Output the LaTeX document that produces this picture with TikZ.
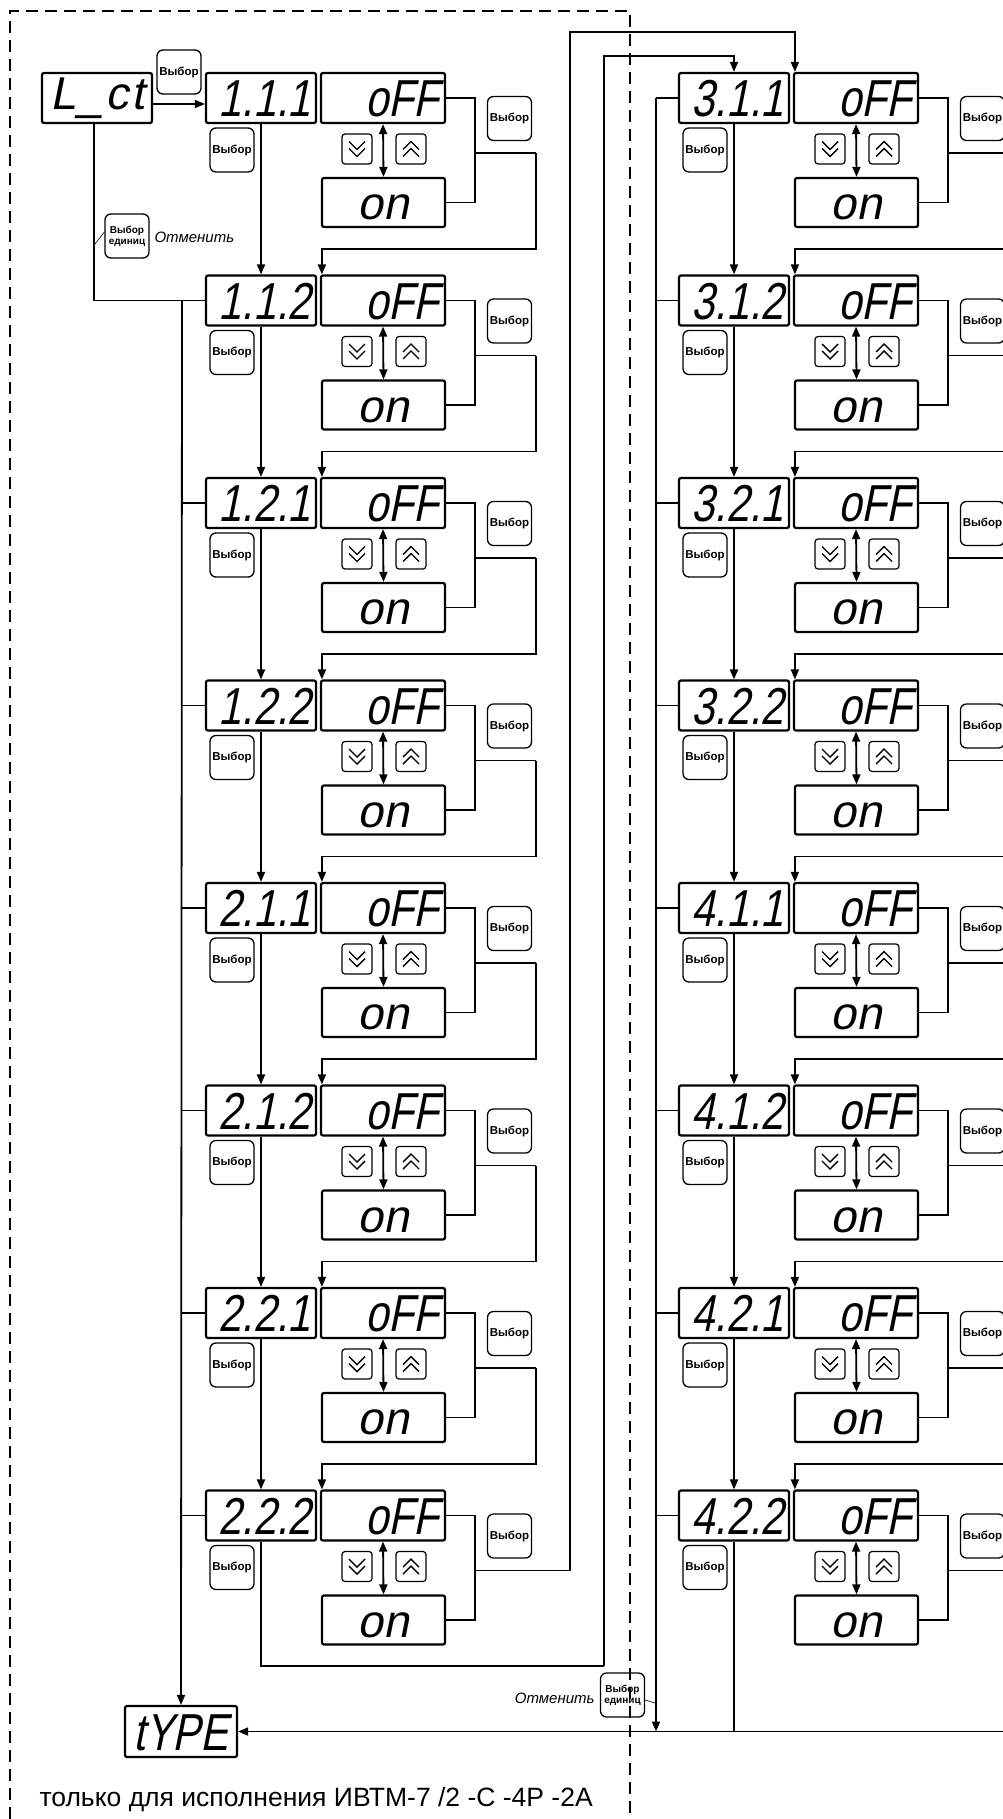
\documentclass[tikz,border=0pt]{standalone}
\usepackage{fontspec}
\usepackage{graphicx}
\setmainfont{Liberation Sans}
\newfontfamily\segfont[FakeSlant=0.2,FakeStretch=0.8]{Liberation Sans}
\newfontfamily\segwide[FakeSlant=0.2]{Liberation Sans}
\newfontfamily\segspaced[FakeSlant=0.2,LetterSpace=5]{Liberation Sans}
\usetikzlibrary{arrows.meta}
\begin{document}
\begin{tikzpicture}[x=1pt,y=-1pt,
  box/.style={draw,line width=2.2pt,rounded corners=2pt,inner sep=0pt,minimum height=50pt},
  seg/.style={font=\segfont\fontsize{52}{52}\selectfont,text height=37pt,text depth=0pt},
  seglow/.style={font=\segwide\fontsize{46}{46}\selectfont,text height=34pt,text depth=0pt},
  btn/.style={draw,line width=1.3pt,rounded corners=6pt,minimum width=44pt,minimum height=44pt,inner sep=0pt,font=\fontsize{11.5}{12}\selectfont\bfseries,align=center},
  unitbtn/.style={btn,font=\fontsize{10}{11}\selectfont\bfseries},
  chev/.style={draw,line width=1.2pt,rounded corners=3pt,minimum size=30pt,inner sep=0pt},
  chevline/.style={line width=1.4pt},
  ln/.style={line width=1.8pt},
  arr/.style={ln,-{Triangle[length=10pt,width=8pt]}},
  dbl/.style={ln,{Triangle[length=10pt,width=8pt]}-{Triangle[length=10pt,width=8pt]}},
  border/.style={line width=2pt,dash pattern=on 12pt off 7pt},
  cancel/.style={font=\fontsize{15}{15}\selectfont\itshape},
]
\useasboundingbox (0,0) rectangle (1002,1819);
% dashed frame
\draw[border] (10,1819) -- (10,11) -- (630,11) -- (630,1819);

% rows
\foreach \lab/\k/\c/\dx in {1.1.1/0/L/0,1.1.2/1/L/0,1.2.1/2/L/0,1.2.2/3/L/0,2.1.1/4/L/0,2.1.2/5/L/0,2.2.1/6/L/0,2.2.2/7/L/0,
                             3.1.1/0/R/473,3.1.2/1/R/473,3.2.1/2/R/473,3.2.2/3/R/473,4.1.1/4/R/473,4.1.2/5/R/473,4.2.1/6/R/473,4.2.2/7/R/473}{
  \pgfmathsetmacro\yy{73+202.5*\k}
  \pgfmathsetmacro\cd{357+\dx}
  \pgfmathsetmacro\cu{411+\dx}
  \pgfmathsetmacro\cy{\yy+76}
  \node[box,seg,text width=100pt,inner xsep=5pt,align=right] (num-\c\k) at (261+\dx,\yy+25) {\lab};
  \node[box,seg,text width=112pt,inner xsep=6pt,align=right] (off-\c\k) at (383+\dx,\yy+25) {oFF};
  \node[box,seglow,text width=111pt,inner xsep=6pt,align=center,minimum height=49pt] (on-\c\k) at (383.5+\dx,\yy+129.5) {on};
  \node[btn] (sel-\c\k) at (232+\dx,\yy+77) {Выбор};
  \node[btn] (selr-\c\k) at (509.5+\dx,\yy+45.5) {Выбор};
  \node[chev] (dn-\c\k) at (\cd,\cy) {};
  \node[chev] (up-\c\k) at (\cu,\cy) {};
  \draw[chevline] (\cd-8,\cy-7.5) -- (\cd,\cy+0.5) -- (\cd+8,\cy-7.5);
  \draw[chevline] (\cd-8,\cy-0.5) -- (\cd,\cy+7.5) -- (\cd+8,\cy-0.5);
  \draw[chevline] (\cu-8,\cy+7.5) -- (\cu,\cy-0.5) -- (\cu+8,\cy+7.5);
  \draw[chevline] (\cu-8,\cy+0.5) -- (\cu,\cy-7.5) -- (\cu+8,\cy+0.5);
  \coordinate (bj-\c\k) at (475+\dx,\yy+80);
  \coordinate (oe-\c\k) at (536+\dx,\yy+80);
  \draw[dbl] (off-\c\k.south) -- (on-\c\k.north);
  \draw[ln] (off-\c\k.east) -- (475+\dx,\yy+25) |- (on-\c\k.east);
}

% connections between consecutive rows
\foreach \c in {L,R}{
  \foreach \k in {0,...,6}{
    \pgfmathtruncatemacro\kn{\k+1}
    \draw[arr] (num-\c\k.south) -- (num-\c\kn.north);
    \draw[ln] (bj-\c\k) -- (oe-\c\k);
    \draw[arr] (oe-\c\k) -- ([yshift=-96pt]oe-\c\k.center) -| ([xshift=2pt]off-\c\kn.north west);
  }
}

% L_ct and tYPE
\node[box,font=\segspaced\fontsize{46}{46}\selectfont,text height=33pt,text depth=10pt,text width=104pt,inner xsep=3pt,align=center] (lct) at (97,98) {L\_ct};
\node[box,seg,text width=106pt,inner xsep=3pt,align=center,minimum height=51pt] (type) at (181,1731.5) {tYPE};
\node[btn] (selA) at (179,72) {Выбор};
\draw[arr] ([yshift=-6pt]lct.east) -- ([yshift=-6pt]num-L0.west);

% left cancel path
\coordinate (lctdown) at (94,123);
\draw[ln] (lctdown) |- (num-L1.west);
\node[unitbtn] (unitA) at (127,236) {Выбор\\единиц};
\node[cancel,anchor=west] (cancA) at (151,237) {Отменить};
\coordinate (tickA) at (95,244);
\draw[line width=0.6pt] (tickA) -- ([yshift=4pt]unitA.west);
\coordinate (ltop) at (182,300);
\draw[arr] (ltop) -- (type.north);
\foreach \k in {2,...,7}{
  \draw[ln] (num-L\k.west) -- (num-L\k.west -| ltop);
}

% right cancel path
\coordinate (rtop) at (656,98);
\coordinate (rbot) at (656,1731.5);
\draw[arr] (rtop) -- (rbot);
\foreach \k in {0,...,7}{
  \draw[ln] (num-R\k.west) -- (num-R\k.west -| rtop);
}
\node[unitbtn] (unitB) at (622.5,1695) {Выбор\\единиц};
\node[cancel,anchor=east] (cancB) at (598,1698) {Отменить};
\coordinate (tickB) at (655,1703);
\draw[line width=0.6pt] ([yshift=-5pt]unitB.east) -- (tickB);

% left column -> right column
\coordinate (c1a) at (570,1570.5);
\coordinate (c1b) at (570,32);
\draw[ln] (bj-L7) -- (c1a);
\draw[arr] (c1a) -- (c1b) -| ([xshift=2pt]off-R0.north west);
\coordinate (c2a) at (604,1666);
\coordinate (c2b) at (604,56);
\draw[ln] (num-L7.south) |- (c2a);
\draw[arr] (c2a) -- (c2b) -| (num-R0.north);

% last right row to tYPE
\coordinate (c3) at (1009,1570.5);
\draw[arr] (bj-R7) -- (c3) |- (type.east);
\draw[ln] (num-R7.south) -- (num-R7.south |- type.east);

% note
\node[anchor=west,font=\fontsize{26.5}{26.5}\selectfont] (note) at (36,1800) {только для исполнения ИВТМ-7 /2 -С -4Р -2А};
\end{tikzpicture}
\end{document}
